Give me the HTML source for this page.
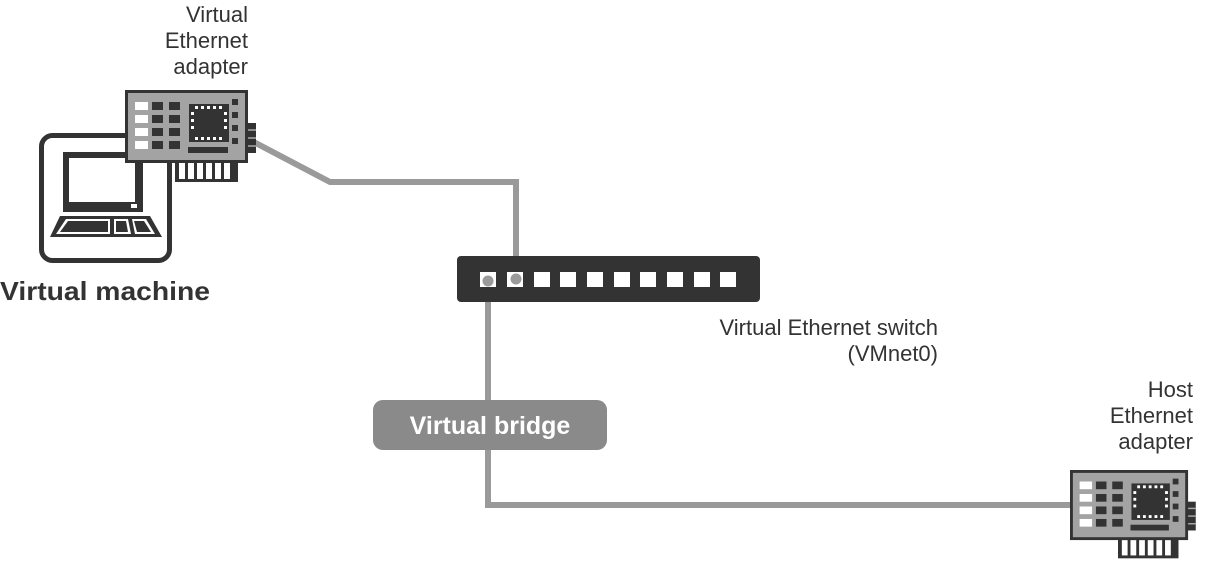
<!DOCTYPE html>
<html><head><meta charset="utf-8"><style>body{margin:0;background:#fff}svg{display:block}</style></head><body>
<svg width="1207" height="575" viewBox="0 0 1207 575" xmlns="http://www.w3.org/2000/svg" font-family="Liberation Sans, sans-serif">
<defs>
<g id="card">
<rect x="50" y="70" width="63" height="22" fill="#333"/>
<g fill="#fff"><rect x="54" y="73" width="6" height="16"/><rect x="63" y="73" width="6" height="16"/><rect x="72" y="73" width="6" height="16"/><rect x="81" y="73" width="6" height="16"/><rect x="90" y="73" width="6" height="16"/><rect x="99" y="73" width="6" height="16"/></g>
<rect x="121" y="33" width="10" height="30" fill="#333"/>
<g stroke="#aaa" stroke-width="1.5"><line x1="123" y1="40" x2="131" y2="40"/><line x1="123" y1="48" x2="131" y2="48"/><line x1="123" y1="56" x2="131" y2="56"/></g>
<rect x="1.5" y="1.5" width="120" height="70" fill="#a3a3a3" stroke="#333" stroke-width="3"/>
<g fill="#fff"><rect x="10" y="12" width="13" height="8"/><rect x="10" y="25" width="13" height="8"/><rect x="10" y="38" width="13" height="8"/><rect x="10" y="51" width="13" height="8"/></g>
<g fill="#333"><rect x="27" y="12" width="11" height="8"/><rect x="27" y="25" width="11" height="8"/><rect x="27" y="38" width="11" height="8"/><rect x="27" y="51" width="11" height="8"/>
<rect x="44" y="12" width="11" height="8"/><rect x="44" y="25" width="11" height="8"/><rect x="44" y="38" width="11" height="8"/><rect x="44" y="51" width="11" height="8"/>
<rect x="64" y="14" width="40" height="38"/><rect x="63" y="57" width="40" height="6"/>
<rect x="107" y="9" width="6" height="6"/><rect x="107" y="22" width="6" height="6"/><rect x="107" y="35" width="6" height="6"/><rect x="107" y="48" width="6" height="6"/></g>
<g fill="#fff"><rect x="70" y="16" width="3" height="3"/><rect x="76" y="16" width="3" height="3"/><rect x="82" y="16" width="3" height="3"/><rect x="88" y="16" width="3" height="3"/><rect x="94" y="16" width="3" height="3"/>
<rect x="70" y="47" width="3" height="3"/><rect x="76" y="47" width="3" height="3"/><rect x="82" y="47" width="3" height="3"/><rect x="88" y="47" width="3" height="3"/><rect x="94" y="47" width="3" height="3"/>
<rect x="66" y="22" width="3" height="3"/><rect x="66" y="29" width="3" height="3"/><rect x="66" y="36" width="3" height="3"/><rect x="99" y="22" width="3" height="3"/><rect x="99" y="29" width="3" height="3"/><rect x="99" y="36" width="3" height="3"/></g>
</g>
</defs>
<g fill="none" stroke="#9a9a9a" stroke-width="6" stroke-linejoin="miter">
<polyline points="250,140 330,182 516,182 516,280"/>
<polyline points="488,281 488,505 1072,505"/>
</g>
<rect x="41.5" y="135.5" width="128" height="125" rx="11" fill="#fff" stroke="#333" stroke-width="5"/>
<rect x="63" y="152" width="80" height="60" fill="#333"/>
<rect x="69" y="158" width="66" height="44" fill="#fff"/>
<rect x="131" y="204" width="6" height="4" fill="#fff"/>
<polygon points="60,216 150,216 162,237 50,237" fill="#333"/>
<polygon points="66,219 110,219 110,234 56,234" fill="#fff"/>
<polygon points="68,221 108,221 108,232 60,232" fill="#333"/>
<polygon points="114,219 128,219 131,234 114,234" fill="#fff"/>
<polygon points="116,221 126,221 128,232 116,232" fill="#333"/>
<polygon points="132,219 146,219 155,234 135,234" fill="#fff"/>
<polygon points="134,221 144,221 151,232 137,232" fill="#333"/>
<use href="#card" x="125" y="90"/>
<use href="#card" transform="translate(1070,470) scale(0.96)"/>
<rect x="457" y="256" width="303" height="46" rx="4" fill="#333"/>
<g fill="#fff">
<rect x="480" y="272" width="16" height="15"/><rect x="507" y="272" width="16" height="15"/><rect x="534" y="272" width="16" height="15"/><rect x="560" y="272" width="16" height="15"/><rect x="587" y="272" width="16" height="15"/><rect x="614" y="272" width="16" height="15"/><rect x="640" y="272" width="16" height="15"/><rect x="667" y="272" width="16" height="15"/><rect x="694" y="272" width="16" height="15"/><rect x="720" y="272" width="16" height="15"/>
</g>
<circle cx="488" cy="281" r="5.5" fill="#9a9a9a"/><circle cx="516" cy="279" r="5.5" fill="#9a9a9a"/>
<rect x="373" y="400" width="234" height="50" rx="10" fill="#8a8a8a"/>
<text x="490" y="434" text-anchor="middle" font-size="25" font-weight="bold" fill="#fff">Virtual bridge</text>
<g font-size="22" fill="#333" text-anchor="end">
<text x="248" y="22">Virtual</text><text x="248" y="48">Ethernet</text><text x="248" y="74">adapter</text>
<text x="938" y="335">Virtual Ethernet switch</text><text x="938" y="361">(VMnet0)</text>
<text x="1193" y="397">Host</text><text x="1193" y="423">Ethernet</text><text x="1193" y="449">adapter</text>
</g>
<text x="0" y="300" font-size="26" font-weight="bold" fill="#333" textLength="210" lengthAdjust="spacingAndGlyphs">Virtual machine</text>
</svg>
</body></html>
